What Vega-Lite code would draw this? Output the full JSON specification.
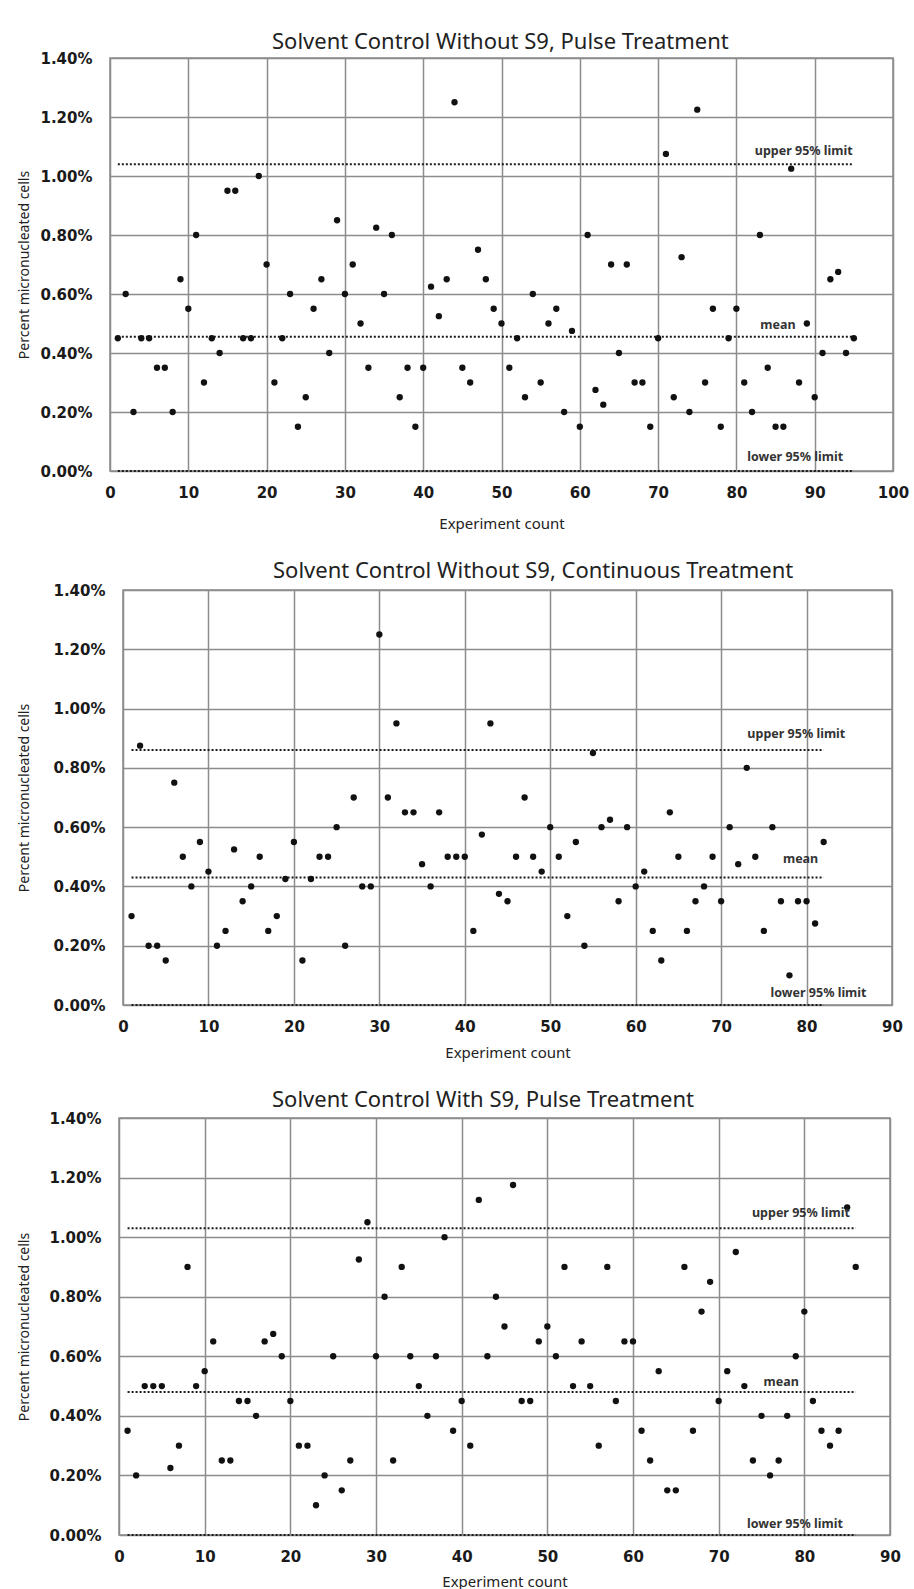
{
  "$schema": "https://vega.github.io/schema/vega-lite/v6.json",
  "background": "white",
  "padding": {"left": 10, "top": 29, "right": 5, "bottom": 0},
  "spacing": 27,
  "datasets": {
    "p1": [
      {"n":1,"pct":0.45},{"n":2,"pct":0.60},{"n":3,"pct":0.20},{"n":4,"pct":0.45},{"n":5,"pct":0.45},
      {"n":6,"pct":0.35},{"n":7,"pct":0.35},{"n":8,"pct":0.20},{"n":9,"pct":0.65},{"n":10,"pct":0.55},
      {"n":11,"pct":0.80},{"n":12,"pct":0.30},{"n":13,"pct":0.45},{"n":14,"pct":0.40},{"n":15,"pct":0.95},
      {"n":16,"pct":0.95},{"n":17,"pct":0.45},{"n":18,"pct":0.45},{"n":19,"pct":1.00},{"n":20,"pct":0.70},
      {"n":21,"pct":0.30},{"n":22,"pct":0.45},{"n":23,"pct":0.60},{"n":24,"pct":0.15},{"n":25,"pct":0.25},
      {"n":26,"pct":0.55},{"n":27,"pct":0.65},{"n":28,"pct":0.40},{"n":29,"pct":0.85},{"n":30,"pct":0.60},
      {"n":31,"pct":0.70},{"n":32,"pct":0.50},{"n":33,"pct":0.35},{"n":34,"pct":0.825},{"n":35,"pct":0.60},
      {"n":36,"pct":0.80},{"n":37,"pct":0.25},{"n":38,"pct":0.35},{"n":39,"pct":0.15},{"n":40,"pct":0.35},
      {"n":41,"pct":0.625},{"n":42,"pct":0.525},{"n":43,"pct":0.65},{"n":44,"pct":1.25},{"n":45,"pct":0.35},
      {"n":46,"pct":0.30},{"n":47,"pct":0.75},{"n":48,"pct":0.65},{"n":49,"pct":0.55},{"n":50,"pct":0.50},
      {"n":51,"pct":0.35},{"n":52,"pct":0.45},{"n":53,"pct":0.25},{"n":54,"pct":0.60},{"n":55,"pct":0.30},
      {"n":56,"pct":0.50},{"n":57,"pct":0.55},{"n":58,"pct":0.20},{"n":59,"pct":0.475},{"n":60,"pct":0.15},
      {"n":61,"pct":0.80},{"n":62,"pct":0.275},{"n":63,"pct":0.225},{"n":64,"pct":0.70},{"n":65,"pct":0.40},
      {"n":66,"pct":0.70},{"n":67,"pct":0.30},{"n":68,"pct":0.30},{"n":69,"pct":0.15},{"n":70,"pct":0.45},
      {"n":71,"pct":1.075},{"n":72,"pct":0.25},{"n":73,"pct":0.725},{"n":74,"pct":0.20},{"n":75,"pct":1.225},
      {"n":76,"pct":0.30},{"n":77,"pct":0.55},{"n":78,"pct":0.15},{"n":79,"pct":0.45},{"n":80,"pct":0.55},
      {"n":81,"pct":0.30},{"n":82,"pct":0.20},{"n":83,"pct":0.80},{"n":84,"pct":0.35},{"n":85,"pct":0.15},
      {"n":86,"pct":0.15},{"n":87,"pct":1.025},{"n":88,"pct":0.30},{"n":89,"pct":0.50},{"n":90,"pct":0.25},
      {"n":91,"pct":0.40},{"n":92,"pct":0.65},{"n":93,"pct":0.675},{"n":94,"pct":0.40},{"n":95,"pct":0.45}
    ],
    "p2": [
      {"n":1,"pct":0.30},{"n":2,"pct":0.875},{"n":3,"pct":0.20},{"n":4,"pct":0.20},{"n":5,"pct":0.15},
      {"n":6,"pct":0.75},{"n":7,"pct":0.50},{"n":8,"pct":0.40},{"n":9,"pct":0.55},{"n":10,"pct":0.45},
      {"n":11,"pct":0.20},{"n":12,"pct":0.25},{"n":13,"pct":0.525},{"n":14,"pct":0.35},{"n":15,"pct":0.40},
      {"n":16,"pct":0.50},{"n":17,"pct":0.25},{"n":18,"pct":0.30},{"n":19,"pct":0.425},{"n":20,"pct":0.55},
      {"n":21,"pct":0.15},{"n":22,"pct":0.425},{"n":23,"pct":0.50},{"n":24,"pct":0.50},{"n":25,"pct":0.60},
      {"n":26,"pct":0.20},{"n":27,"pct":0.70},{"n":28,"pct":0.40},{"n":29,"pct":0.40},{"n":30,"pct":1.25},
      {"n":31,"pct":0.70},{"n":32,"pct":0.95},{"n":33,"pct":0.65},{"n":34,"pct":0.65},{"n":35,"pct":0.475},
      {"n":36,"pct":0.40},{"n":37,"pct":0.65},{"n":38,"pct":0.50},{"n":39,"pct":0.50},{"n":40,"pct":0.50},
      {"n":41,"pct":0.25},{"n":42,"pct":0.575},{"n":43,"pct":0.95},{"n":44,"pct":0.375},{"n":45,"pct":0.35},
      {"n":46,"pct":0.50},{"n":47,"pct":0.70},{"n":48,"pct":0.50},{"n":49,"pct":0.45},{"n":50,"pct":0.60},
      {"n":51,"pct":0.50},{"n":52,"pct":0.30},{"n":53,"pct":0.55},{"n":54,"pct":0.20},{"n":55,"pct":0.85},
      {"n":56,"pct":0.60},{"n":57,"pct":0.625},{"n":58,"pct":0.35},{"n":59,"pct":0.60},{"n":60,"pct":0.40},
      {"n":61,"pct":0.45},{"n":62,"pct":0.25},{"n":63,"pct":0.15},{"n":64,"pct":0.65},{"n":65,"pct":0.50},
      {"n":66,"pct":0.25},{"n":67,"pct":0.35},{"n":68,"pct":0.40},{"n":69,"pct":0.50},{"n":70,"pct":0.35},
      {"n":71,"pct":0.60},{"n":72,"pct":0.475},{"n":73,"pct":0.80},{"n":74,"pct":0.50},{"n":75,"pct":0.25},
      {"n":76,"pct":0.60},{"n":77,"pct":0.35},{"n":78,"pct":0.10},{"n":79,"pct":0.35},{"n":80,"pct":0.35},
      {"n":81,"pct":0.275},{"n":82,"pct":0.55}
    ],
    "p3": [
      {"n":1,"pct":0.35},{"n":2,"pct":0.20},{"n":3,"pct":0.50},{"n":4,"pct":0.50},{"n":5,"pct":0.50},
      {"n":6,"pct":0.225},{"n":7,"pct":0.30},{"n":8,"pct":0.90},{"n":9,"pct":0.50},{"n":10,"pct":0.55},
      {"n":11,"pct":0.65},{"n":12,"pct":0.25},{"n":13,"pct":0.25},{"n":14,"pct":0.45},{"n":15,"pct":0.45},
      {"n":16,"pct":0.40},{"n":17,"pct":0.65},{"n":18,"pct":0.675},{"n":19,"pct":0.60},{"n":20,"pct":0.45},
      {"n":21,"pct":0.30},{"n":22,"pct":0.30},{"n":23,"pct":0.10},{"n":24,"pct":0.20},{"n":25,"pct":0.60},
      {"n":26,"pct":0.15},{"n":27,"pct":0.25},{"n":28,"pct":0.925},{"n":29,"pct":1.05},{"n":30,"pct":0.60},
      {"n":31,"pct":0.80},{"n":32,"pct":0.25},{"n":33,"pct":0.90},{"n":34,"pct":0.60},{"n":35,"pct":0.50},
      {"n":36,"pct":0.40},{"n":37,"pct":0.60},{"n":38,"pct":1.00},{"n":39,"pct":0.35},{"n":40,"pct":0.45},
      {"n":41,"pct":0.30},{"n":42,"pct":1.125},{"n":43,"pct":0.60},{"n":44,"pct":0.80},{"n":45,"pct":0.70},
      {"n":46,"pct":1.175},{"n":47,"pct":0.45},{"n":48,"pct":0.45},{"n":49,"pct":0.65},{"n":50,"pct":0.70},
      {"n":51,"pct":0.60},{"n":52,"pct":0.90},{"n":53,"pct":0.50},{"n":54,"pct":0.65},{"n":55,"pct":0.50},
      {"n":56,"pct":0.30},{"n":57,"pct":0.90},{"n":58,"pct":0.45},{"n":59,"pct":0.65},{"n":60,"pct":0.65},
      {"n":61,"pct":0.35},{"n":62,"pct":0.25},{"n":63,"pct":0.55},{"n":64,"pct":0.15},{"n":65,"pct":0.15},
      {"n":66,"pct":0.90},{"n":67,"pct":0.35},{"n":68,"pct":0.75},{"n":69,"pct":0.85},{"n":70,"pct":0.45},
      {"n":71,"pct":0.55},{"n":72,"pct":0.95},{"n":73,"pct":0.50},{"n":74,"pct":0.25},{"n":75,"pct":0.40},
      {"n":76,"pct":0.20},{"n":77,"pct":0.25},{"n":78,"pct":0.40},{"n":79,"pct":0.60},{"n":80,"pct":0.75},
      {"n":81,"pct":0.45},{"n":82,"pct":0.35},{"n":83,"pct":0.30},{"n":84,"pct":0.35},{"n":85,"pct":1.10},
      {"n":86,"pct":0.90}
    ],
    "lim1": [
      {"kind":"upper 95% limit","y":1.04,"start":1,"end":95,"lx":88.6,"ly":1.085},
      {"kind":"mean","y":0.455,"start":1,"end":95,"lx":85.3,"ly":0.494},
      {"kind":"lower 95% limit","y":0,"start":1,"end":95,"lx":87.5,"ly":0.048}
    ],
    "lim2": [
      {"kind":"upper 95% limit","y":0.86,"start":1,"end":82,"lx":78.8,"ly":0.914},
      {"kind":"mean","y":0.43,"start":1,"end":82,"lx":79.3,"ly":0.491},
      {"kind":"lower 95% limit","y":0,"start":1,"end":82,"lx":81.4,"ly":0.042}
    ],
    "lim3": [
      {"kind":"upper 95% limit","y":1.03,"start":1,"end":86,"lx":79.6,"ly":1.082},
      {"kind":"mean","y":0.48,"start":1,"end":86,"lx":77.3,"ly":0.514},
      {"kind":"lower 95% limit","y":0,"start":1,"end":86,"lx":78.9,"ly":0.037}
    ]
  },
  "vconcat": [
    {
      "spacing": 0,
      "hconcat": [
        {"width": 1, "height": 1, "data": {"values": [{}]}, "mark": {"type": "point", "opacity": 0}, "encoding": {}, "view": {"stroke": null}},
        {
          "width": 783, "height": 413,
          "title": {"text": "Solvent Control Without S9, Pulse Treatment", "dx": 162, "offset": -2.5},
          "layer": [
            {
              "data": {"name": "lim1"},
              "mark": {"type": "rule", "strokeDash": [2, 2], "strokeWidth": 2, "color": "#1a1a1a"},
              "encoding": {
                "x": {"field": "start", "type": "quantitative", "scale": {"domain": [0, 100], "nice": false},
                  "axis": {"values": [0,10,20,30,40,50,60,70,80,90,100], "title": "Experiment count", "titlePadding": 16}},
                "x2": {"field": "end"},
                "y": {"field": "y", "type": "quantitative", "scale": {"domain": [0, 1.4], "nice": false},
                  "axis": {"values": [0,0.2,0.4,0.6,0.8,1.0,1.2,1.4], "title": "Percent micronucleated cells", "titlePadding": 8}}
              }
            },
            {
              "data": {"name": "p1"},
              "mark": {"type": "circle", "size": 40, "color": "#111", "opacity": 1},
              "encoding": {
                "x": {"field": "n", "type": "quantitative"},
                "y": {"field": "pct", "type": "quantitative"}
              }
            },
            {
              "data": {"name": "lim1"},
              "mark": {"type": "text", "font": "Noto Sans", "fontWeight": "bold", "fontSize": 12.5, "color": "#333", "baseline": "middle", "align": "center"},
              "encoding": {
                "x": {"field": "lx", "type": "quantitative"},
                "y": {"field": "ly", "type": "quantitative"},
                "text": {"field": "kind"}
              }
            }
          ]
        }
      ]
    },
    {
      "spacing": 0,
      "hconcat": [
        {"width": 1, "height": 1, "data": {"values": [{}]}, "mark": {"type": "point", "opacity": 0}, "encoding": {}, "view": {"stroke": null}},
        {
          "width": 769, "height": 415,
          "title": {"text": "Solvent Control Without S9, Continuous Treatment", "dx": 150, "offset": 0},
          "layer": [
            {
              "data": {"name": "lim2"},
              "mark": {"type": "rule", "strokeDash": [2, 2], "strokeWidth": 2, "color": "#1a1a1a"},
              "encoding": {
                "x": {"field": "start", "type": "quantitative", "scale": {"domain": [0, 90], "nice": false},
                  "axis": {"values": [0,10,20,30,40,50,60,70,80,90], "title": "Experiment count", "titlePadding": 11}},
                "x2": {"field": "end"},
                "y": {"field": "y", "type": "quantitative", "scale": {"domain": [0, 1.4], "nice": false},
                  "axis": {"values": [0,0.2,0.4,0.6,0.8,1.0,1.2,1.4], "title": "Percent micronucleated cells", "titlePadding": 21}}
              }
            },
            {
              "data": {"name": "p2"},
              "mark": {"type": "circle", "size": 40, "color": "#111", "opacity": 1},
              "encoding": {
                "x": {"field": "n", "type": "quantitative"},
                "y": {"field": "pct", "type": "quantitative"}
              }
            },
            {
              "data": {"name": "lim2"},
              "mark": {"type": "text", "font": "Noto Sans", "fontWeight": "bold", "fontSize": 12.5, "color": "#333", "baseline": "middle", "align": "center"},
              "encoding": {
                "x": {"field": "lx", "type": "quantitative"},
                "y": {"field": "ly", "type": "quantitative"},
                "text": {"field": "kind"}
              }
            }
          ]
        }
      ]
    },
    {
      "spacing": 0,
      "hconcat": [
        {"width": 1, "height": 1, "data": {"values": [{}]}, "mark": {"type": "point", "opacity": 0}, "encoding": {}, "view": {"stroke": null}},
        {
          "width": 771, "height": 417,
          "title": {"text": "Solvent Control With S9, Pulse Treatment", "dx": 153, "offset": -1},
          "layer": [
            {
              "data": {"name": "lim3"},
              "mark": {"type": "rule", "strokeDash": [2, 2], "strokeWidth": 2, "color": "#1a1a1a"},
              "encoding": {
                "x": {"field": "start", "type": "quantitative", "scale": {"domain": [0, 90], "nice": false},
                  "axis": {"values": [0,10,20,30,40,50,60,70,80,90], "title": "Experiment count", "titlePadding": 10}},
                "x2": {"field": "end"},
                "y": {"field": "y", "type": "quantitative", "scale": {"domain": [0, 1.4], "nice": false},
                  "axis": {"values": [0,0.2,0.4,0.6,0.8,1.0,1.2,1.4], "title": "Percent micronucleated cells", "titlePadding": 17}}
              }
            },
            {
              "data": {"name": "p3"},
              "mark": {"type": "circle", "size": 40, "color": "#111", "opacity": 1},
              "encoding": {
                "x": {"field": "n", "type": "quantitative"},
                "y": {"field": "pct", "type": "quantitative"}
              }
            },
            {
              "data": {"name": "lim3"},
              "mark": {"type": "text", "font": "Noto Sans", "fontWeight": "bold", "fontSize": 12.5, "color": "#333", "baseline": "middle", "align": "center"},
              "encoding": {
                "x": {"field": "lx", "type": "quantitative"},
                "y": {"field": "ly", "type": "quantitative"},
                "text": {"field": "kind"}
              }
            }
          ]
        }
      ]
    }
  ],
  "config": {
    "font": "Noto Sans",
    "view": {"stroke": "#8c8c8c", "strokeWidth": 1.5},
    "axis": {
      "domain": false, "ticks": false,
      "grid": true, "gridColor": "#8c8c8c", "gridWidth": 1.5, "gridOpacity": 1,
      "labelFont": "DejaVu Sans", "labelFontWeight": "bold", "labelFontSize": 15, "labelColor": "#1a1a1a",
      "labelFlush": false, "labelOverlap": false,
      "titleFont": "Noto Sans", "titleFontWeight": "normal", "titleColor": "#222"
    },
    "axisX": {"labelPadding": 14, "titleFontSize": 15},
    "axisY": {"labelPadding": 18, "titleFontSize": 14, "labelExpr": "format(datum.value, '.2f') + '%'"},
    "title": {"font": "Noto Sans", "fontSize": 22, "fontWeight": "normal", "color": "#222", "anchor": "start", "offset": 0, "frame": "group"}
  }
}
